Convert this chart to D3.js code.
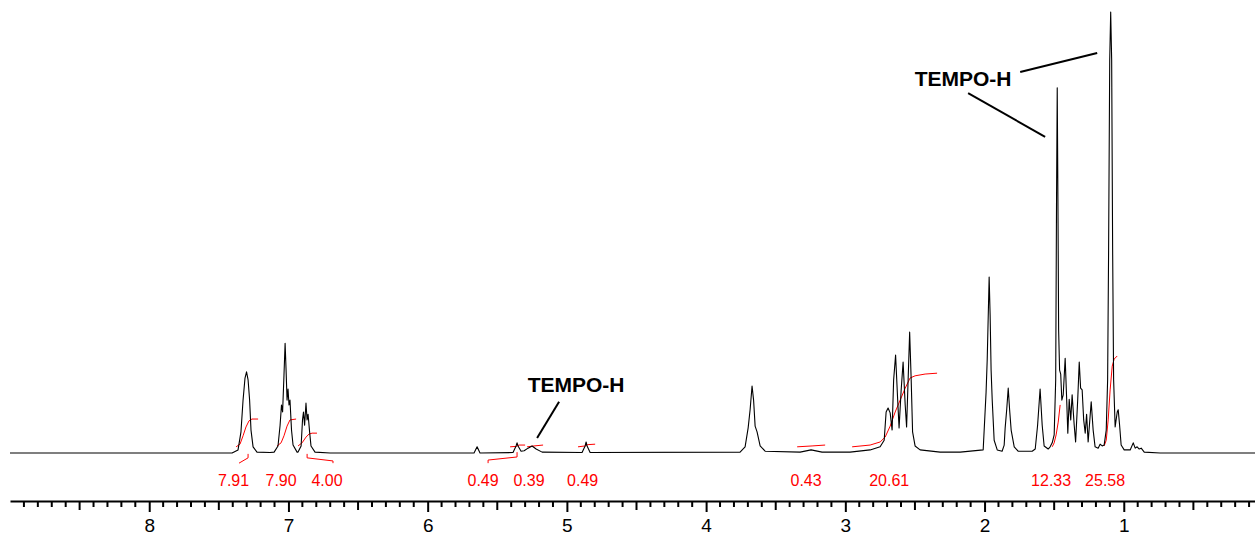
<!DOCTYPE html>
<html>
<head>
<meta charset="utf-8">
<script src="https://cdn.jsdelivr.net/npm/d3@7"></script>
<style>
  html, body { margin: 0; padding: 0; background: #fff; }
  svg { display: block; font-family: "Liberation Sans", Arial, sans-serif; }
</style>
</head>
<body>
<svg id="chart" width="1255" height="535"></svg>
<script>
// 1H NMR spectrum: [chemical shift (ppm), relative intensity (tallest peak = 100)]
const spectrum = [
  [9.00,0],[7.405,0],[7.362,0.7],[7.341,4.8],[7.326,12.0],[7.312,17.0],[7.301,18.4],[7.290,16.6],[7.279,12.0],[7.269,5.2],[7.254,1.4],[7.226,0.2],[7.132,0.1],
  [7.103,0.2],[7.075,1.6],[7.060,6.3],[7.050,10.9],[7.042,9.3],[7.032,17.7],[7.024,24.9],[7.017,18.8],[7.010,12.0],[7.003,14.5],[6.996,10.9],[6.989,12.0],[6.978,5.2],[6.967,1.8],[6.938,0.2],
  [6.931,0.2],[6.909,1.6],[6.899,7.5],[6.892,9.3],[6.884,6.3],[6.874,11.3],[6.866,7.5],[6.859,8.8],[6.848,4.8],[6.838,1.6],[6.809,0.2],[6.701,0],
  [5.667,0],[5.645,1.4],[5.624,0],
  [5.387,0.1],[5.365,1.6],[5.358,2.3],[5.351,1.6],[5.329,0.4],[5.307,0.5],[5.279,1.1],[5.250,1.6],[5.221,0.9],[5.178,0.2],
  [4.891,0.1],[4.869,1.6],[4.862,2.5],[4.855,1.6],[4.833,0.1],
  [3.756,0.2],[3.720,1.4],[3.698,5.7],[3.684,9.8],[3.670,15.2],[3.659,12.0],[3.648,6.1],[3.634,4.8],[3.612,1.6],[3.576,0.4],
  [3.325,0.2],[3.246,0.7],[3.167,0.2],
  [2.966,0.2],[2.822,0.7],[2.750,1.4],[2.721,2.9],[2.707,9.3],[2.693,10.2],[2.678,9.1],[2.664,5.2],[2.653,16.6],[2.639,22.2],[2.624,12.0],[2.614,5.7],[2.599,14.3],[2.585,20.6],[2.570,10.9],[2.560,5.9],[2.549,16.6],[2.538,27.4],[2.527,16.6],[2.517,4.8],[2.499,1.6],[2.463,0.7],[2.319,0.2],
  [2.175,0.2],[2.010,0.7],[1.989,13.8],[1.981,21.1],[1.967,39.9],[1.960,31.3],[1.953,18.8],[1.945,12.0],[1.931,2.9],[1.909,0.7],
  [1.874,0.4],[1.859,1.8],[1.852,5.7],[1.841,9.8],[1.830,14.7],[1.820,9.8],[1.809,5.2],[1.787,1.4],[1.759,0.4],
  [1.658,0.4],[1.636,0.9],[1.619,6.3],[1.601,14.5],[1.586,6.3],[1.572,1.6],[1.543,0.9],[1.529,1.4],[1.514,2.3],
  [1.500,4.1],[1.489,16.6],[1.483,57.4],[1.478,82.8],[1.473,57.4],[1.468,27.9],[1.461,18.8],[1.453,17.9],[1.445,12.0],[1.435,13.2],[1.421,21.5],[1.410,12.0],[1.402,4.5],[1.392,12.2],[1.381,7.5],[1.371,13.2],[1.356,6.3],[1.346,2.5],[1.331,12.0],[1.320,20.6],[1.310,14.7],[1.299,14.3],[1.288,7.5],[1.277,4.5],[1.267,8.8],[1.256,2.5],[1.234,11.6],[1.220,5.2],[1.206,1.4],[1.184,1.1],[1.170,2.0],[1.155,1.6],
  [1.141,1.8],[1.126,5.2],[1.116,16.6],[1.109,46.0],[1.101,89.1],[1.094,100],[1.087,89.1],[1.080,46.0],[1.073,16.6],[1.062,5.9],[1.047,9.3],[1.040,9.8],[1.030,6.3],[1.019,1.8],[0.997,0.7],[0.954,0.7],[0.932,2.3],[0.918,1.1],[0.904,1.4],[0.889,0.9],[0.875,1.1],[0.853,0.2],[0.739,0],[0.0,0]
];

// Integral traces, one per integrated region
const integrals = [
  [[7.376,1.4],[7.348,2.0],[7.326,3.9],[7.305,5.9],[7.283,7.3],[7.262,7.7],[7.218,7.7]],
  [[7.082,1.6],[7.053,2.3],[7.032,3.9],[7.010,6.1],[6.989,7.5],[6.945,7.7]],
  [[6.931,1.6],[6.902,2.3],[6.874,3.6],[6.852,4.3],[6.830,4.5],[6.795,4.5]],
  [[5.408,1.4],[5.365,1.5],[5.343,1.8],[5.300,1.8]],
  [[5.286,1.4],[5.236,1.6],[5.171,1.8]],
  [[4.920,1.4],[4.869,1.6],[4.848,1.9],[4.797,2.0]],
  [[3.346,1.4],[3.239,1.6],[3.145,1.8]],
  [[2.951,1.4],[2.822,1.8],[2.750,2.5],[2.714,3.6],[2.678,6.1],[2.642,9.3],[2.606,12.0],[2.570,14.7],[2.535,17.0],[2.499,17.5],[2.427,17.9],[2.341,18.1]],
  [[1.514,1.4],[1.500,2.3],[1.486,4.1],[1.471,7.0],[1.457,10.9]],
  [[1.141,1.6],[1.126,2.9],[1.112,7.5],[1.098,14.3],[1.083,19.7],[1.069,21.3],[1.047,22.0]]
];

// Integral region markers below the baseline
const integralMarks = [
  [[7.355,-2.3],[7.290,-1.1],[7.290,-0.2]],
  [[6.866,-0.2],[6.866,-1.1],[6.680,-1.8],[6.680,-2.3]],
  [[5.566,-2.3],[5.566,-1.6],[5.358,-0.9],[5.358,0.2]]
];

// Integral values and the shift each label is centred on
const integralValues = ["7.91","7.90","4.00","0.49","0.39","0.49","0.43","20.61","12.33","25.58"];
const integralLabelPpm = [7.394,7.053,6.723,5.602,5.272,4.887,3.282,2.685,1.522,1.134];

// Peak assignments: label anchor and pointer lines
const assignText = ["TEMPO-H","TEMPO-H"];
const assignTextPos = [[2.154,83.2],[4.934,13.8]];
const assignPointers = [
  [[1.744,86.4],[1.191,90.7]],
  [[2.118,81.6],[1.565,71.7]],
  [[5.056,11.6],[5.214,3.4]]
];

// Axis ticks
const majorTicks = [8,7,6,5,4,3,2,1,0];

const svg = d3.select("#chart");
const x = d3.scaleLinear().domain([9, 0]).range([10, 1263]);
const y = d3.scaleLinear().domain([0, 100]).range([453, 12]);

const line = d3.line().x(d => x(d[0])).y(d => y(d[1]));

// Integral traces and region markers
svg.append("g").selectAll("path").data(integrals).join("path")
  .attr("d", line).attr("fill", "none").attr("stroke", "#ff0000").attr("stroke-width", 1);
svg.append("g").selectAll("path").data(integralMarks).join("path")
  .attr("d", line).attr("fill", "none").attr("stroke", "#ff0000").attr("stroke-width", 1);

// Spectrum
svg.append("path").datum(spectrum)
  .attr("d", line).attr("fill", "none").attr("stroke", "#000").attr("stroke-width", 1.1)
  .attr("stroke-linejoin", "round");

// Integral values
svg.append("g").selectAll("text").data(integralValues).join("text")
  .attr("x", (d, i) => x(integralLabelPpm[i])).attr("y", 486)
  .attr("text-anchor", "middle").attr("font-size", 16).attr("fill", "#ff0000")
  .text(d => d);

// Assignment labels
svg.append("g").selectAll("path").data(assignPointers).join("path")
  .attr("d", line).attr("fill", "none").attr("stroke", "#000").attr("stroke-width", 2);
svg.append("g").selectAll("text").data(assignText).join("text")
  .attr("x", (d, i) => x(assignTextPos[i][0])).attr("y", (d, i) => y(assignTextPos[i][1]))
  .attr("text-anchor", "middle").attr("font-size", 21).attr("font-weight", "bold").attr("fill", "#000")
  .text(d => d);

// ppm axis
const axisY = 501;
const axis = d3.axisBottom(x).tickValues(majorTicks).tickFormat(d3.format("d"))
  .tickSize(11).tickSizeOuter(0).tickPadding(7);
const gAxis = svg.append("g").attr("transform", `translate(0,${axisY})`).call(axis);
gAxis.select(".domain").attr("stroke", "#000").attr("stroke-width", 2);
gAxis.selectAll(".tick line").attr("stroke", "#000").attr("stroke-width", 2);
gAxis.selectAll(".tick text").attr("font-size", 19).attr("fill", "#000")
  .attr("font-family", "Liberation Sans, Arial, sans-serif");

// minor ticks every 0.1 ppm, longer at the half
const minor = d3.range(1, 90).map(i => i / 10).filter(v => Math.abs(v - Math.round(v)) > 1e-6);
gAxis.selectAll(".minor").data(minor).join("line").attr("class", "minor")
  .attr("x1", d => x(d)).attr("x2", d => x(d))
  .attr("y1", 0).attr("y2", d => Math.abs(d * 10 % 10 - 5) < 1e-6 ? 9 : 6)
  .attr("stroke", "#000").attr("stroke-width", 2);
</script>
</body>
</html>
